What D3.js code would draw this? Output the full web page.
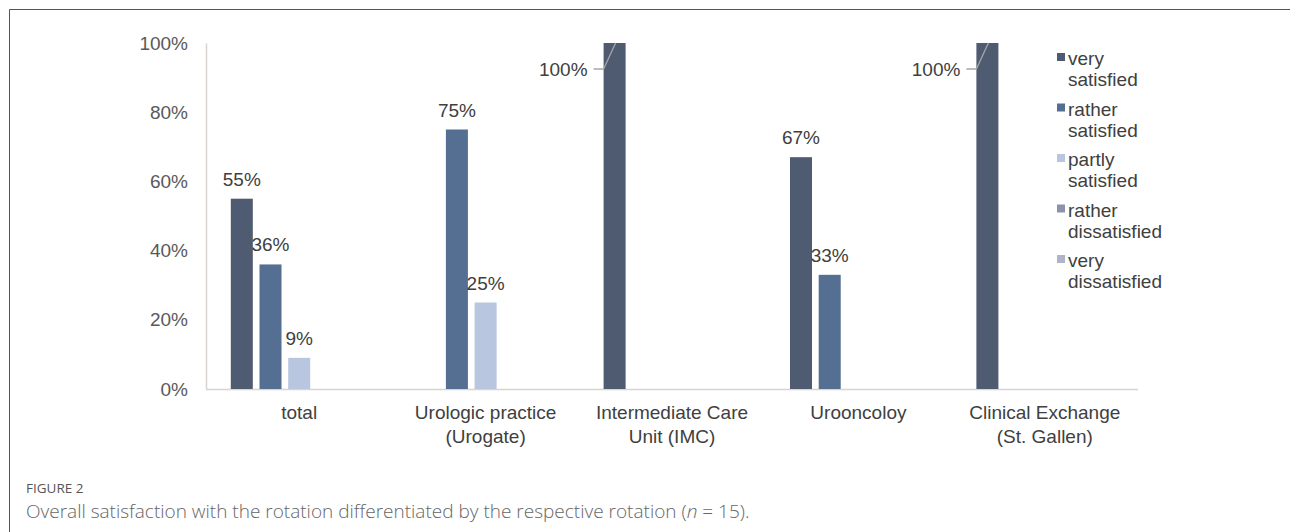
<!DOCTYPE html>
<html>
<head>
<meta charset="utf-8">
<script src="https://cdn.jsdelivr.net/npm/d3@7"></script>
<style>
  body { margin: 0; background: #fff; }
</style>
</head>
<body>
<script>
// categories (rotations), split over lines
var categories = [["total"], ["Urologic practice", "(Urogate)"], ["Intermediate Care", "Unit (IMC)"], ["Urooncoloy"], ["Clinical Exchange", "(St. Gallen)"]];
var seriesNames = ["very satisfied", "rather satisfied", "partly satisfied", "rather dissatisfied", "very dissatisfied"];
var legendLines = [["very", "satisfied"], ["rather", "satisfied"], ["partly", "satisfied"], ["rather", "dissatisfied"], ["very", "dissatisfied"]];
// values in percent per series
var verySatisfied = [55, 0, 100, 67, 100];
var ratherSatisfied = [36, 75, 0, 33, 0];
var partlySatisfied = [9, 25, 0, 0, 0];
var ratherDissatisfied = [0, 0, 0, 0, 0];
var veryDissatisfied = [0, 0, 0, 0, 0];
var yTicks = [0, 20, 40, 60, 80, 100];

var seriesValues = [verySatisfied, ratherSatisfied, partlySatisfied, ratherDissatisfied, veryDissatisfied];
var colors = ["#4f5b71", "#546f91", "#b9c6e0", "#8a93aa", "#b0b4c7"];

var width = 1290, height = 532;
var chartFont = "'Liberation Sans', Arial, sans-serif";
var fs = 19;

var svg = d3.select("body").append("svg")
    .attr("width", width)
    .attr("height", height)
    .attr("font-family", chartFont);

// page frame (top + left rule)
svg.append("path")
    .attr("d", "M9.5," + height + "V9.5H" + width)
    .attr("fill", "none")
    .attr("stroke", "#555")
    .attr("stroke-width", 1);

var plotLeft = 206, plotRight = 1138, plotTop = 43, plotBottom = 389;

var x0 = d3.scaleBand()
    .domain(d3.range(categories.length))
    .range([plotLeft, plotRight])
    .padding(0);

var x1 = d3.scaleBand()
    .domain(d3.range(seriesNames.length))
    .range([0, x0.bandwidth()])
    .paddingInner(0.233)
    .paddingOuter(0.864);

var y = d3.scaleLinear()
    .domain([0, 100])
    .range([plotBottom, plotTop]);

// y axis
var yAxis = d3.axisLeft(y)
    .tickValues(yTicks)
    .tickSize(0)
    .tickPadding(18)
    .tickFormat(function(d){ return d + "%"; });

var gy = svg.append("g")
    .attr("transform", "translate(" + plotLeft + ",0)")
    .call(yAxis)
    .attr("font-family", chartFont)
    .attr("font-size", fs);
gy.select(".domain").attr("stroke", "#d9d4cf").attr("stroke-width", 1.5);
gy.selectAll("text").attr("fill", "#595959");

// x axis line
svg.append("line")
    .attr("x1", plotLeft)
    .attr("x2", plotRight)
    .attr("y1", plotBottom + 0.5)
    .attr("y2", plotBottom + 0.5)
    .attr("stroke", "#d9d4cf")
    .attr("stroke-width", 1.5);

// category labels
categories.forEach(function(lines, i){
    var cx = x0(i) + x0.bandwidth() / 2;
    var t = svg.append("text")
        .attr("x", cx)
        .attr("y", 419)
        .attr("text-anchor", "middle")
        .attr("font-size", fs)
        .attr("fill", "#404040");
    lines.forEach(function(l, j){
        t.append("tspan")
            .attr("x", cx)
            .attr("dy", j == 0 ? 0 : 24)
            .text(l);
    });
});

// bars
var barData = [];
categories.forEach(function(c, i){
    seriesValues.forEach(function(vals, s){
        barData.push({cat: i, s: s, v: vals[i]});
    });
});
var shown = barData.filter(function(d){ return d.v > 0; });

svg.selectAll(".bar")
    .data(shown)
    .enter()
    .append("rect")
    .attr("class", "bar")
    .attr("x", function(d){ return x0(d.cat) + x1(d.s); })
    .attr("width", x1.bandwidth())
    .attr("y", function(d){ return y(d.v); })
    .attr("height", function(d){ return y(0) - y(d.v); })
    .attr("fill", function(d){ return colors[d.s]; });

// value labels
shown.forEach(function(d){
    var bx = x0(d.cat) + x1(d.s);
    if (d.v >= 100) {
        // label moved left, with a leader line
        var ly = y(d.v) + 26;
        svg.append("path")
            .attr("d", "M" + (bx - 10) + "," + ly + "H" + bx + "L" + (bx + 12) + "," + y(d.v))
            .attr("fill", "none")
            .attr("stroke", "#a6a6a6")
            .attr("stroke-width", 1.3);
        svg.append("text")
            .attr("x", bx - 16)
            .attr("y", ly + 7)
            .attr("text-anchor", "end")
            .attr("font-size", fs)
            .attr("fill", "#404040")
            .text(d.v + "%");
    } else {
        svg.append("text")
            .attr("x", bx + x1.bandwidth() / 2)
            .attr("y", y(d.v) - 13)
            .attr("text-anchor", "middle")
            .attr("font-size", fs)
            .attr("fill", "#404040")
            .text(d.v + "%");
    }
});

// legend
var legend = svg.append("g").attr("transform", "translate(1057,0)");
legendLines.forEach(function(lines, i){
    var top = 58 + i * 50.5;
    legend.append("rect")
        .attr("x", 0)
        .attr("y", top - 5)
        .attr("width", 8)
        .attr("height", 8)
        .attr("fill", colors[i]);
    var t = legend.append("text")
        .attr("x", 11)
        .attr("y", top + 7)
        .attr("font-size", fs)
        .attr("fill", "#404040");
    lines.forEach(function(l, j){
        t.append("tspan")
            .attr("x", 11)
            .attr("dy", j == 0 ? 0 : 21)
            .text(l);
    });
});

// caption
svg.append("text")
    .attr("x", 26)
    .attr("y", 493)
    .attr("font-size", 13.5)
    .attr("fill", "#555")
    .attr("font-family", "'Open Sans', sans-serif")
    .text("FIGURE 2");

var cap = svg.append("text")
    .attr("x", 26)
    .attr("y", 518)
    .attr("font-size", 19)
    .attr("fill", "#666")
    .attr("font-family", "'Open Sans', sans-serif")
    .attr("font-weight", 300);
cap.append("tspan").text("Overall satisfaction with the rotation differentiated by the respective rotation (");
cap.append("tspan").attr("font-style", "italic").text("n");
cap.append("tspan").text(" = 15).");
</script>
</body>
</html>
